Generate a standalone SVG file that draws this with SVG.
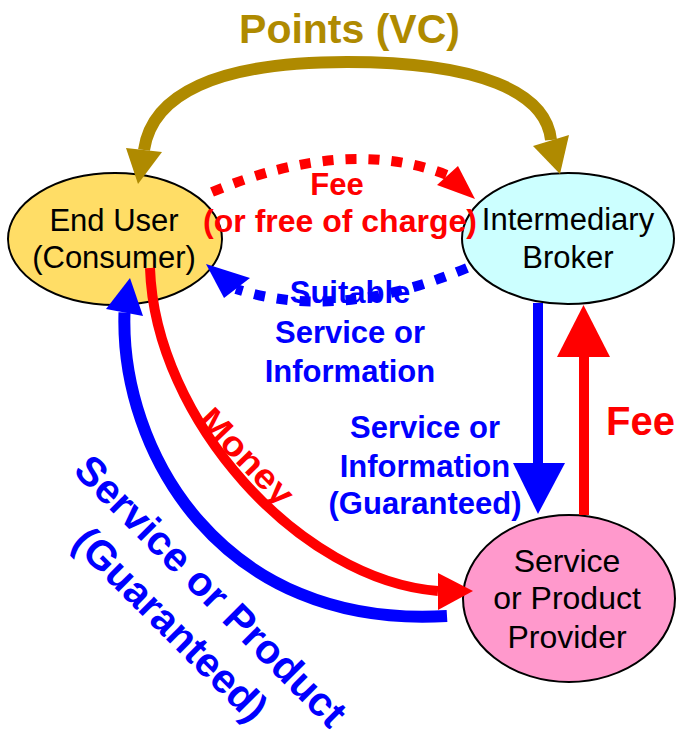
<svg xmlns="http://www.w3.org/2000/svg" width="687" height="736" viewBox="0 0 687 736">
<style>
.node{stroke:#000;stroke-width:2}
.nt{font-family:"Liberation Sans",Arial,sans-serif;font-size:31px;fill:#000;text-anchor:middle}
.lb{font-family:"Liberation Sans",Arial,sans-serif;font-weight:bold;text-anchor:middle}
.gold{fill:none;stroke:#AF8A00;stroke-width:12}
.dot{fill:none;stroke-width:10;stroke-dasharray:11 12}
</style>
<rect width="687" height="736" fill="#fff"/>
<g id="end-user">
<ellipse class="node" cx="115" cy="239" rx="107" ry="66" fill="#FFDD66"/>
<text class="nt" x="114" y="231">End User</text>
<text class="nt" x="114" y="268">(Consumer)</text>
</g>
<g id="broker">
<ellipse class="node" cx="568" cy="238.5" rx="106" ry="65.5" fill="#CCFFFF"/>
<text class="nt" x="568" y="230">Intermediary</text>
<text class="nt" x="568" y="268">Broker</text>
</g>
<g id="provider">
<ellipse class="node" cx="569" cy="598.5" rx="106" ry="83.5" fill="#FF99CC"/>
<text class="nt" x="567" y="572" style="font-size:32px">Service</text>
<text class="nt" x="567" y="609" style="font-size:32px">or Product</text>
<text class="nt" x="567" y="648" style="font-size:32px">Provider</text>
</g>
<g id="connectors">
<path class="gold" d="M144,150 C152,95 215,62 347,62 C479,62 546,92 551,140"/>
<polygon fill="#AF8A00" points="126,148 162,152 138,184"/>
<polygon fill="#AF8A00" points="533,146 569,135 560,174"/>
<path class="dot" stroke="#FF0000" d="M212,192 Q346,136 447,175"/>
<polygon fill="#FF0000" points="437,185 458,166 475,199"/>
<path class="dot" stroke="#0000FF" d="M467,268 Q338,322 236,289"/>
<polygon fill="#0000FF" points="206,264 224,298 250,278"/>
<path fill="none" stroke="#0000FF" stroke-width="10" d="M538,303 V464"/>
<polygon fill="#0000FF" points="513,463 565,463 538,514"/>
<path fill="none" stroke="#FF0000" stroke-width="10" d="M584,515 V356"/>
<polygon fill="#FF0000" points="557,357 610,357 583.5,305"/>
<path fill="none" stroke="#FF0000" stroke-width="10" d="M150,268 C155,420 300,580 438,591"/>
<polygon fill="#FF0000" points="438,573 438,610 473,591"/>
<path fill="none" stroke="#0000FF" stroke-width="12" d="M124.5,312.5 C120,450 220,630 447,616"/>
<polygon fill="#0000FF" points="130,278 106,309 143,316"/>
</g>
<g id="labels">
<text class="lb" x="349.5" y="43" style="font-size:41px" fill="#AF8A00">Points (VC)</text>
<text class="lb" x="337" y="195" style="font-size:31px" fill="#FF0000">Fee</text>
<text class="lb" x="340" y="232" style="font-size:32px" fill="#FF0000">(or free of charge)</text>
<text class="lb" x="350" y="303" style="font-size:31px" fill="#0000FF">Suitable</text>
<text class="lb" x="350" y="343" style="font-size:31px" fill="#0000FF">Service or</text>
<text class="lb" x="350" y="382" style="font-size:31px" fill="#0000FF">Information</text>
<text class="lb" x="425" y="438" style="font-size:31px" fill="#0000FF">Service or</text>
<text class="lb" x="425" y="477" style="font-size:31px" fill="#0000FF">Information</text>
<text class="lb" x="425" y="514" style="font-size:31px" fill="#0000FF">(Guaranteed)</text>
<text class="lb" x="640.5" y="435" style="font-size:40px" fill="#FF0000">Fee</text>
<text class="lb" transform="translate(238,465) rotate(46)" style="font-size:35px" textLength="120" lengthAdjust="spacingAndGlyphs" fill="#FF0000">Money</text>
<g transform="translate(201,601) rotate(45)" fill="#0000FF">
<text class="lb" x="0" y="0" style="font-size:41px">Service or Product</text>
<text class="lb" x="-5" y="52" style="font-size:41px">(Guaranteed)</text>
</g>
</g>
</svg>
